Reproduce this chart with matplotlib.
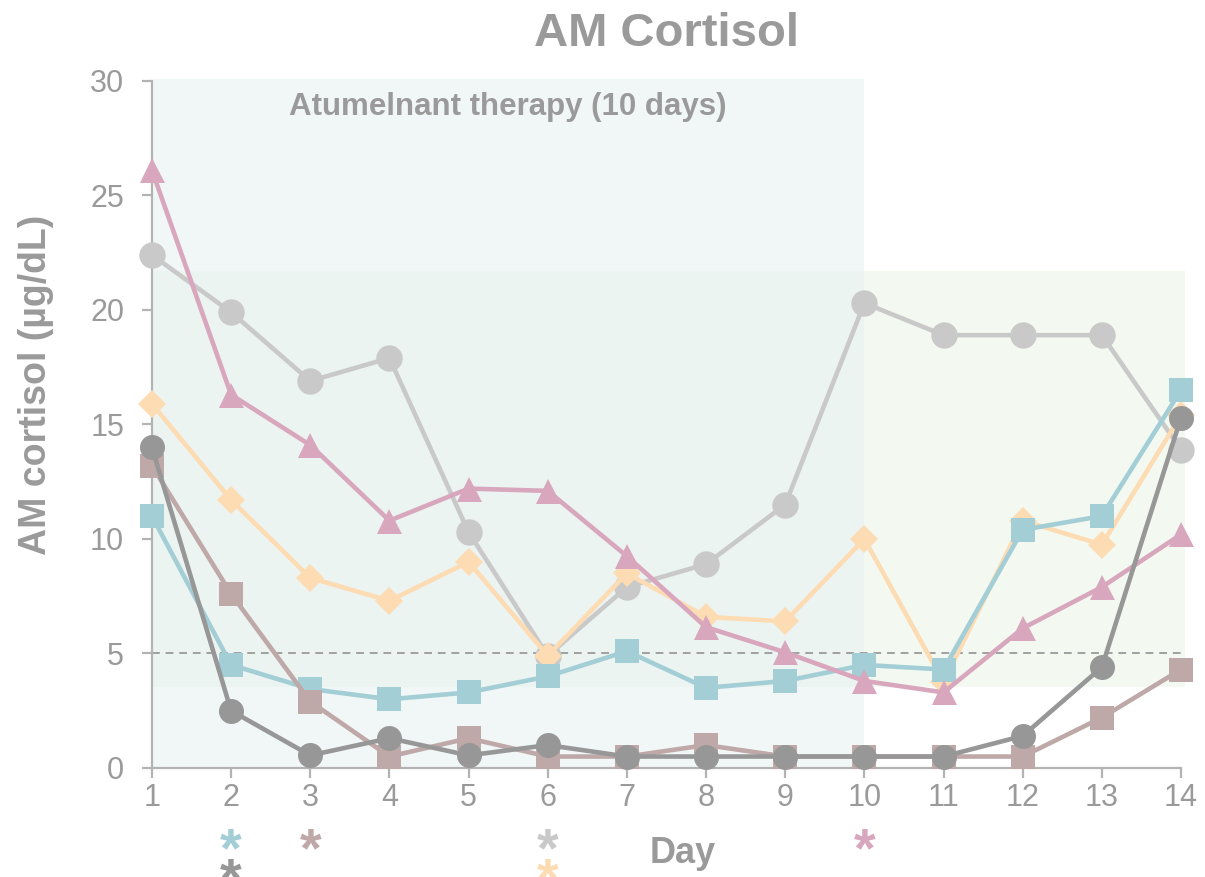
import matplotlib
matplotlib.use('Agg')
import matplotlib.pyplot as plt

plt.rcParams['font.family'] = ['Liberation Sans', 'DejaVu Sans']

# Data
days = list(range(1, 15))
gray_light = [22.4, 19.9, 16.9, 17.9, 10.3, 4.9, 7.9, 8.9, 11.5, 20.3, 18.9, 18.9, 18.9, 13.9]
pink = [26.1, 16.3, 14.1, 10.8, 12.2, 12.1, 9.25, 6.15, 5.05, 3.8, 3.3, 6.1, 7.9, 10.2]
peach = [15.9, 11.7, 8.3, 7.3, 9.0, 4.9, 8.5, 6.6, 6.4, 10.0, 3.75, 10.8, 9.75, 15.4]
blue = [11.0, 4.5, 3.45, 3.0, 3.3, 4.0, 5.1, 3.5, 3.8, 4.5, 4.3, 10.4, 11.0, 16.5]
gray_dark = [14.0, 2.5, 0.55, 1.3, 0.55, 1.0, 0.5, 0.5, 0.5, 0.5, 0.5, 1.4, 4.4, 15.3]
mauve = [13.2, 7.6, 2.9, 0.5, 1.3, 0.5, 0.5, 1.0, 0.5, 0.5, 0.5, 0.5, 2.2, 4.3]

# significance markers: (day, row, colour name)
star_days = [2, 3, 6, 10, 2, 6]
star_rows = [0, 0, 0, 0, 1, 1]
star_keys = ['blue', 'mauve', 'gray_light', 'pink', 'gray_dark', 'peach']

colors = {
    'gray_light': '#c9c9c9',
    'pink': '#d8a7bd',
    'peach': '#fddbb3',
    'blue': '#a4ced6',
    'gray_dark': '#979797',
    'mauve': '#bea8a8',
}
text_gray = '#9a9a9a'

fig = plt.figure(figsize=(12.05, 8.77), dpi=100)
ax = fig.add_axes([0.1261, 0.1243, 0.9801 - 0.1261, 0.9077 - 0.1243])

# shaded regions
normal = ax.fill_between([1, 14.05], 3.55, 21.7, color='#f3f9f1', lw=0, zorder=0)
normal.set_clip_on(False)
therapy = ax.fill_between([1, 10], 0, 30.1, color='#e7f1f2', alpha=0.55, lw=0, zorder=0.5)
therapy.set_clip_on(False)

dash = ax.plot([1, 14.05], [5, 5], ls=(0, (4, 3)), color='#a0a0a0', lw=1.4, zorder=1)[0]
dash.set_clip_on(False)

series = [
    (gray_light, 'gray_light', 'o', 19),
    (peach, 'peach', 'D', 14),
    (blue, 'blue', 's', 17),
    (pink, 'pink', '^', 18),
    (mauve, 'mauve', 's', 17),
    (gray_dark, 'gray_dark', 'o', 18),
]
for vals, key, mk, ms in series:
    ax.plot(days, vals, color=colors[key], lw=3.3, marker=mk, markersize=ms,
            markeredgewidth=0, zorder=3, clip_on=False)

ax.set_xlim(1, 14)
ax.set_ylim(0, 30)
ax.set_xticks(days)
ax.set_yticks([0, 5, 10, 15, 20, 25, 30])
for s in ['top', 'right']:
    ax.spines[s].set_visible(False)
for s in ['left', 'bottom']:
    ax.spines[s].set_color('#b3b3b3')
    ax.spines[s].set_linewidth(1.6)
ax.tick_params(axis='both', colors='#b3b3b3', width=1.6, length=7,
               labelcolor=text_gray, labelsize=22)
ax.tick_params(axis='x', pad=4)
ax.tick_params(axis='y', pad=13)

ax.set_title('AM Cortisol', fontsize=34, fontweight='bold', color=text_gray, pad=25)
ax.set_ylabel('AM cortisol (µg/dL)', fontsize=27, fontweight='bold', color=text_gray)
ax.yaxis.set_label_coords(-0.095, 0.557)
ax.text(7.7, -3.75, 'Day', ha='center', va='center', fontsize=26, fontweight='bold',
        color=text_gray, clip_on=False)
ax.text(5.5, 28.85, 'Atumelnant therapy (10 days)', ha='center', va='center',
        fontsize=22.5, fontweight='bold', color=text_gray)

for d, r, k in zip(star_days, star_rows, star_keys):
    ax.text(d, -3.7 - 1.3 * r, '*', ha='center', va='center', fontsize=40,
            fontweight='bold', color=colors[k], clip_on=False)

fig.savefig('out.png', dpi=100)
